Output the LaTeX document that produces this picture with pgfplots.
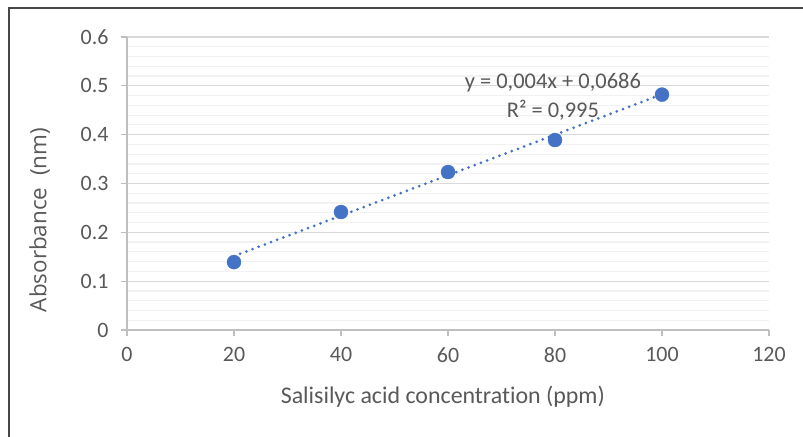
\documentclass[border=0pt]{standalone}
\usepackage{pgfplots}
\pgfplotsset{compat=1.18}
\usepackage{fontspec}
\setmainfont{Carlito}[Ligatures=NoCommon]
\newfontfamily\opensans{Open Sans}
\definecolor{ptblue}{HTML}{4472C4}
\definecolor{txtgray}{HTML}{595959}
\definecolor{majgrid}{HTML}{D9D9D9}
\definecolor{mingrid}{HTML}{F2F2F2}
\definecolor{axgray}{HTML}{BFBFBF}
\begin{document}
\begin{tikzpicture}[x=1bp,y=1bp]
\useasboundingbox (0,0) rectangle (803,437);
\fill[white] (0,0) rectangle (803,437);
\draw[color=black!72, line width=2bp] (9,0) -- (9,429) -- (803,429);
\begin{axis}[
  at={(127bp,107bp)}, anchor=south west,
  scale only axis, width=642bp, height=293bp,
  xmin=0, xmax=120, ymin=0, ymax=0.6,
  xtick={0,20,40,60,80,100,120},
  ytick={0,0.1,0.2,0.3,0.4,0.5,0.6},
  minor y tick num=4,
  ymajorgrids, yminorgrids,
  major grid style={majgrid, line width=1.2bp},
  minor grid style={mingrid, line width=1.2bp},
  axis x line*=bottom, axis y line*=left,
  axis line style={axgray, line width=1.3bp, -},
  tick style={axgray, line width=1.3bp},
  tick align=outside, major tick length=6bp, minor tick length=0pt,
  /pgf/number format/assume math mode=true,
  /pgf/number format/fixed,
  tick label style={font=\fontsize{22}{22}\selectfont, text=txtgray},
  yticklabel style={xshift=-9bp},
  xticklabel style={yshift=-8bp},
  xlabel={Salisilyc acid concentration (ppm)},
  ylabel={\opensans Absorbance\ \ (nm)},
  label style={font=\fontsize{24}{24}\selectfont, text=txtgray},
  xlabel style={at={(rel axis cs:0.492,-0.229)}, anchor=center},
  ylabel style={at={(rel axis cs:-0.136,0.375)}, anchor=center, font=\fontsize{22.5}{22.5}\selectfont},
  clip=false,
]
\addplot[only marks, mark=*, mark size=7bp, mark options={fill=ptblue, draw=ptblue}]
  coordinates {(20,0.139) (40,0.2416) (60,0.3235) (80,0.389) (100,0.482)};
\addplot[ptblue, line width=3bp, line cap=round, dash pattern=on 0bp off 6.6bp]
  coordinates {(20,0.1513) (100,0.4826)};
\node[text=txtgray, font=\fontsize{22.5}{22.5}\selectfont] at (axis cs:79.6,0.506) {y = 0,004x + 0,0686};
\node[text=txtgray, font=\fontsize{22.5}{22.5}\selectfont] at (axis cs:79.6,0.4505) {R² = 0,995};
\end{axis}
\end{tikzpicture}
\end{document}
